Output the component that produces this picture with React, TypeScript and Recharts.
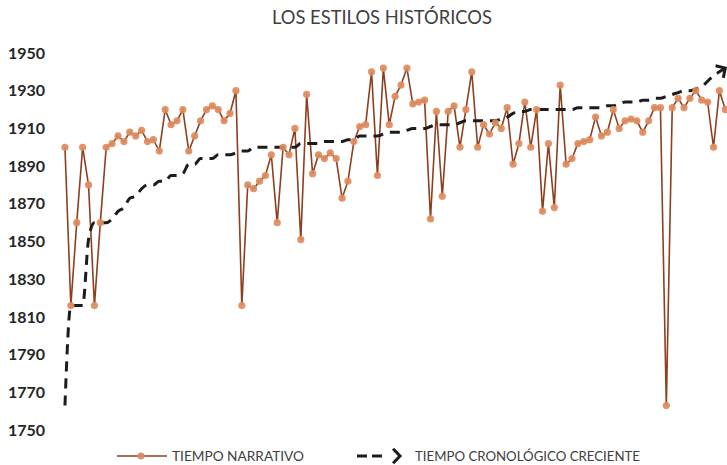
import React from 'react';
import { LineChart, Line, XAxis, YAxis } from 'recharts';

const chartTitle = 'LOS ESTILOS HISTÓRICOS';
const seriesNames = ['TIEMPO NARRATIVO', 'TIEMPO CRONOLÓGICO CRECIENTE'];

const narrativeValues = [
  1900, 1816, 1860, 1900, 1880, 1816, 1860, 1900, 1902, 1906,
  1903, 1908, 1906, 1909, 1903, 1904, 1898, 1920, 1912, 1914,
  1920, 1898, 1906, 1914, 1920, 1922, 1920, 1914, 1918, 1930,
  1816, 1880, 1878, 1882, 1885, 1896, 1860, 1900, 1896, 1910,
  1851, 1928, 1886, 1896, 1894, 1897, 1894, 1873, 1882, 1903,
  1911, 1912, 1940, 1885, 1942, 1912, 1927, 1933, 1942, 1923,
  1924, 1925, 1862, 1919, 1874, 1919, 1922, 1900, 1920, 1940,
  1900, 1912, 1907, 1913, 1910, 1921, 1891, 1902, 1924, 1900,
  1920, 1866, 1902, 1868, 1933, 1891, 1894, 1902, 1903, 1904,
  1916, 1906, 1908, 1920, 1910, 1914, 1915, 1914, 1908, 1914,
  1921, 1921, 1763, 1921, 1926, 1921, 1926, 1930, 1925, 1924,
  1900, 1930, 1920,
];

const chronologicalValues = [
  1763, 1816, 1816, 1816, 1851, 1860, 1860, 1860, 1862, 1866,
  1868, 1873, 1874, 1878, 1880, 1880, 1882, 1882, 1885, 1885,
  1886, 1891, 1891, 1894, 1894, 1894, 1896, 1896, 1896, 1897,
  1898, 1898, 1900, 1900, 1900, 1900, 1900, 1900, 1900, 1900,
  1902, 1902, 1902, 1902, 1903, 1903, 1903, 1903, 1904, 1904,
  1906, 1906, 1906, 1906, 1907, 1908, 1908, 1908, 1909, 1910,
  1910, 1910, 1911, 1912, 1912, 1912, 1912, 1913, 1914, 1914,
  1914, 1914, 1914, 1914, 1915, 1916, 1918, 1919, 1919, 1920,
  1920, 1920, 1920, 1920, 1920, 1920, 1920, 1921, 1921, 1921,
  1921, 1921, 1922, 1922, 1923, 1924, 1924, 1924, 1925, 1925,
  1926, 1926, 1927, 1928, 1929, 1930, 1930, 1931, 1932, 1935,
  1938, 1940, 1942,
];

const yTicks = [1750, 1770, 1790, 1810, 1830, 1850, 1870, 1890, 1910, 1930, 1950];

const data = narrativeValues.map((v, i) => ({
  idx: i + 1,
  narrativo: v,
  cronologico: chronologicalValues[i],
}));

const FONT = 'Lato, "Open Sans", sans-serif';
const DASH_COLOR = '#1c1c1c';
const LINE_COLOR = '#8d3f1f';
const MARKER_COLOR = '#de8b5c';

function chevron(tx: number, ty: number, ang: number, len: number, spread: number) {
  const x1 = tx - len * Math.cos(ang - spread);
  const y1 = ty - len * Math.sin(ang - spread);
  const x2 = tx - len * Math.cos(ang + spread);
  const y2 = ty - len * Math.sin(ang + spread);
  return `M${x1},${y1}L${tx},${ty}L${x2},${y2}`;
}

function ArrowDot(props: any) {
  const { cx, cy, index, points } = props;
  if (index !== chronologicalValues.length - 1 || cx == null || cy == null) {
    return <g key={`ad-${index}`} />;
  }
  let ang = -0.45;
  if (points && points.length > 1) {
    const p = points[points.length - 3] || points[points.length - 2];
    ang = Math.atan2(cy - p.y, cx - p.x);
  }
  return (
    <path
      key="arrow-end"
      d={chevron(cx, cy, ang, 10, 0.8)}
      fill="none"
      stroke={DASH_COLOR}
      strokeWidth={3}
      strokeLinejoin="miter"
    />
  );
}

export default function App() {
  return (
    <div style={{ position: 'absolute', left: 0, top: 0, width: 727, height: 465, background: '#fff' }}>
      <LineChart
        width={727}
        height={465}
        data={data}
        margin={{ top: 53, right: 0, bottom: 35, left: 0 }}
      >
        <XAxis dataKey="idx" type="number" domain={[0.5, 113.29]} hide />
        <YAxis
          type="number"
          domain={[1750, 1950]}
          ticks={yTicks}
          interval={0}
          width={62}
          axisLine={false}
          tickLine={false}
          tickSize={0}
          tickMargin={17}
          tick={{ fill: '#262626', fontSize: 16, fontWeight: 700, fontFamily: FONT }}
        />
        <Line
          type="linear"
          dataKey="narrativo"
          name={seriesNames[0]}
          stroke={LINE_COLOR}
          strokeWidth={1.6}
          dot={{ r: 3.6, fill: MARKER_COLOR, stroke: 'none', fillOpacity: 0.92 }}
          activeDot={false}
          isAnimationActive={false}
        />
        <Line
          type="monotone"
          dataKey="cronologico"
          name={seriesNames[1]}
          stroke={DASH_COLOR}
          strokeWidth={3}
          strokeDasharray="10 7"
          dot={ArrowDot}
          activeDot={false}
          isAnimationActive={false}
        />
      </LineChart>
      <svg
        width={727}
        height={465}
        style={{ position: 'absolute', left: 0, top: 0, pointerEvents: 'none' }}
      >
        <text
          x={272}
          y={24}
          fontFamily={FONT}
          fontSize={19}
          fill="#404040"
          textLength={220}
          lengthAdjust="spacingAndGlyphs"
        >
          {chartTitle}
        </text>
        <line x1={117} y1={456} x2={167} y2={456} stroke={LINE_COLOR} strokeWidth={1.6} />
        <circle cx={141} cy={456} r={3.6} fill={MARKER_COLOR} fillOpacity={0.92} />
        <text
          x={172}
          y={460.5}
          fontFamily={FONT}
          fontSize={12.5}
          fill="#404040"
          textLength={132}
          lengthAdjust="spacingAndGlyphs"
        >
          {seriesNames[0]}
        </text>
        <line x1={357} y1={456} x2={386} y2={456} stroke={DASH_COLOR} strokeWidth={3} strokeDasharray="10 5" />
        <path d={chevron(400, 456, 0, 10, 0.8)} fill="none" stroke={DASH_COLOR} strokeWidth={3} />
        <text
          x={415}
          y={460.5}
          fontFamily={FONT}
          fontSize={12.5}
          fill="#404040"
          textLength={225}
          lengthAdjust="spacingAndGlyphs"
        >
          {seriesNames[1]}
        </text>
      </svg>
    </div>
  );
}
